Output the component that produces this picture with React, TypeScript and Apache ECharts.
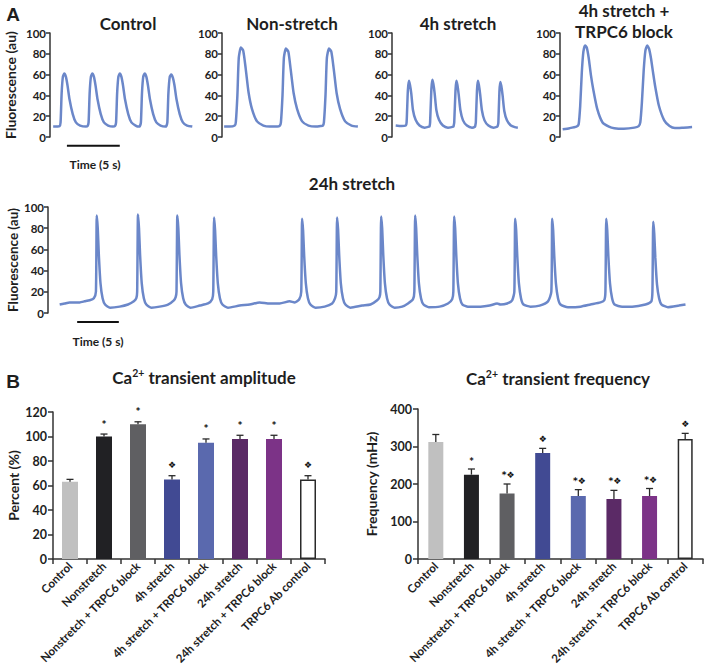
import React, { useEffect, useRef } from 'react';
import * as echarts from 'echarts';

// ---------- Panel A traces: [time (s), fluorescence (au)] ----------
const controlTrace: number[][] = [
  [0.3, 10], [0.9, 10.5], [1.0, 14], [1.1, 42], [1.22, 58], [1.35, 61], [1.5, 58], [1.65, 50], [1.85, 36], [2.15, 22], [2.45, 14], [2.85, 11], [3.4, 10],
  [3.55, 10.5], [3.65, 14], [3.75, 42], [3.87, 58], [4.0, 61], [4.15, 58], [4.3, 50], [4.5, 36], [4.8, 22], [5.1, 14], [5.5, 11], [5.95, 10],
  [6.15, 10.5], [6.25, 14], [6.35, 42], [6.47, 58], [6.6, 61], [6.75, 58], [6.9, 50], [7.1, 36], [7.4, 22], [7.7, 14], [8.1, 11], [8.4, 10],
  [8.5, 10.5], [8.6, 14], [8.7, 42], [8.82, 58], [8.96, 61], [9.11, 58], [9.26, 50], [9.46, 36], [9.76, 22], [10.06, 14], [10.46, 11], [10.9, 10],
  [11.0, 10.5], [11.1, 14], [11.2, 42], [11.33, 58], [11.47, 60], [11.62, 57], [11.77, 50], [11.97, 36], [12.27, 22], [12.57, 14], [12.97, 11], [13.46, 10],
];

const nonStretchTrace: number[][] = [
  [0.2, 10], [0.7, 10], [1.2, 11], [1.3, 14], [1.45, 40], [1.58, 76], [1.78, 86], [2.0, 83], [2.23, 66], [2.5, 43], [2.82, 27], [3.3, 15], [3.9, 11], [4.5, 10], [5.2, 10],
  [5.45, 11], [5.55, 14], [5.7, 40], [5.83, 76], [6.02, 85], [6.25, 82], [6.47, 65], [6.75, 42], [7.07, 27], [7.55, 15], [8.15, 11], [8.8, 10], [9.3, 10.5],
  [9.5, 11], [9.6, 14], [9.75, 40], [9.88, 76], [10.08, 85], [10.3, 82], [10.53, 65], [10.8, 42], [11.12, 27], [11.6, 15], [12.2, 11], [12.8, 10],
];

const stretch4hTrace: number[][] = [
  [0.35, 11], [0.9, 10.5], [1.3, 11], [1.38, 14], [1.5, 45], [1.6, 54], [1.7, 50], [1.82, 42], [1.98, 26], [2.23, 16.5], [2.6, 11], [3.08, 9], [3.5, 10],
  [3.55, 10.5], [3.6, 14], [3.72, 46], [3.81, 55], [3.91, 51], [4.03, 42], [4.19, 26], [4.44, 16.5], [4.81, 11], [5.29, 9], [5.8, 10],
  [5.83, 11], [5.88, 14], [6.0, 45], [6.08, 54], [6.18, 50], [6.3, 41], [6.46, 26], [6.71, 16], [7.08, 11], [7.56, 9], [7.85, 10],
  [7.87, 11], [7.92, 14], [8.03, 45], [8.11, 54], [8.21, 50], [8.33, 41], [8.49, 26], [8.74, 16], [9.11, 11], [9.59, 9], [9.95, 10],
  [10.0, 11], [10.05, 14], [10.15, 44], [10.23, 53], [10.33, 49], [10.45, 40], [10.61, 25], [10.86, 16], [11.23, 11], [11.6, 9.5], [11.89, 9],
];

const stretch4hBlockTrace: number[][] = [
  [0.25, 7.5], [0.9, 8.5], [1.55, 10], [1.75, 12], [1.9, 30], [2.05, 62], [2.2, 82], [2.36, 88], [2.52, 86], [2.7, 76], [2.9, 60], [3.14, 45], [3.5, 27], [4.0, 14], [4.6, 10], [5.1, 8.5], [6.0, 8], [7.0, 9], [7.4, 10.5],
  [7.55, 14], [7.7, 33], [7.87, 64], [8.03, 83], [8.2, 88], [8.37, 85], [8.55, 76], [8.75, 62], [8.96, 48], [9.3, 30], [9.8, 16], [10.3, 10.5], [10.8, 8.6], [11.6, 9], [12.42, 9.5],
];

const stretch24hTrace: number[][] = [
  [1.4, 8], [2.0, 9], [2.6, 10], [3.8, 10], [4.4, 11], [5.0, 12], [5.5, 14], [5.75, 20], [5.85, 92], [5.97, 80], [6.1, 55], [6.3, 28], [6.55, 14], [6.85, 8], [7.45, 5],
  [8.6, 6], [9.6, 8], [10.3, 11], [10.6, 14], [10.7, 20], [10.8, 93], [10.92, 80], [11.05, 55], [11.25, 28], [11.5, 14], [11.8, 8], [12.4, 5],
  [13.4, 6], [14.4, 8], [15.1, 12], [15.32, 15], [15.42, 20], [15.52, 92], [15.64, 80], [15.77, 55], [15.97, 28], [16.22, 14], [16.52, 8], [17.1, 5],
  [18.2, 7], [19.2, 9], [19.7, 13], [19.83, 20], [19.93, 90], [20.05, 78], [20.18, 54], [20.38, 28], [20.63, 14], [20.93, 8], [21.6, 5],
  [23.0, 7], [24.2, 8], [25.4, 10], [26.6, 9], [27.8, 9], [29.0, 11], [29.6, 10], [30.15, 13], [30.39, 20], [30.49, 89], [30.61, 78], [30.74, 54], [30.94, 28], [31.19, 14], [31.49, 8], [32.1, 5],
  [33.2, 6], [34.1, 9], [34.45, 14], [34.59, 20], [34.69, 90], [34.81, 79], [34.94, 55], [35.14, 28], [35.39, 14], [35.69, 8], [36.3, 5],
  [37.7, 7], [38.7, 8], [39.5, 12], [39.78, 15], [39.88, 20], [39.98, 91], [40.1, 80], [40.23, 55], [40.43, 28], [40.68, 14], [40.98, 8], [41.6, 5],
  [42.5, 6], [43.2, 9], [43.8, 13], [43.96, 20], [44.06, 92], [44.18, 80], [44.31, 55], [44.51, 28], [44.76, 14], [45.06, 8], [45.7, 5.5],
  [47.0, 6], [48.0, 9], [48.5, 13], [48.64, 20], [48.74, 91], [48.86, 80], [48.99, 55], [49.19, 28], [49.44, 14], [49.74, 8], [50.4, 6],
  [51.9, 6], [53.0, 7], [53.9, 9], [54.3, 8], [55.1, 9], [55.7, 12], [55.96, 20], [56.06, 89], [56.18, 78], [56.31, 54], [56.51, 28], [56.76, 14], [57.06, 8], [57.9, 6],
  [59.0, 7], [60.0, 11], [60.4, 20], [60.5, 89], [60.62, 78], [60.75, 54], [60.95, 28], [61.2, 14], [61.5, 8], [62.4, 5.5],
  [63.9, 6], [65.1, 8], [66.3, 10], [66.75, 12], [66.89, 20], [66.99, 89], [67.11, 78], [67.24, 54], [67.44, 28], [67.69, 14], [67.99, 8], [68.9, 6],
  [70.1, 6], [71.7, 8], [72.4, 11], [72.53, 20], [72.63, 86], [72.75, 75], [72.88, 52], [73.08, 27], [73.33, 14], [73.63, 8], [74.4, 5.5], [75.7, 7], [76.5, 8],
];

// 5 s scale bars [start, end] in seconds
const scaleBarTop = [1.6, 6.6];
const scaleBar24h = [3.5, 8.5];

// ---------- Panel B ----------
const categories = [
  'Control', 'Nonstretch', 'Nonstretch + TRPC6 block', '4h stretch',
  '4h stretch + TRPC6 block', '24h stretch', '24h stretch + TRPC6 block', 'TRPC6 Ab control',
];
const amplitudeValues = [63, 100, 110, 65, 95, 98, 98, 65];
const amplitudeErrors = [2, 2, 2, 3, 3, 3, 3, 3];
const amplitudeMarks = ['', '*', '*', '❖', '*', '*', '*', '❖'];
const frequencyValues = [312, 225, 175, 283, 168, 160, 168, 320];
const frequencyErrors = [20, 15, 25, 12, 17, 23, 20, 15];
const frequencyMarks = ['', '*', '*❖', '❖', '*❖', '*❖', '*❖', '❖'];

const barColors = ['#c0c0c0', '#212124', '#5f5f62', '#414a93', '#5a69ae', '#5b2a66', '#7c3387', '#ffffff'];

const FONT = 'Lato, "Noto Sans", "DejaVu Sans", sans-serif';
const TRACE = '#6b87c9';
const AXIS = '#333333';
const TXT = '#1e1e1e';

function traceY(gridIndex: number, name: string, nameGap = 33, nameSize = 14, moveOverlap = true) {
  return {
    gridIndex, type: 'value', min: 0, max: 100, interval: 20,
    name, nameLocation: 'middle', nameGap, nameMoveOverlap: moveOverlap,
    nameTextStyle: { fontFamily: FONT, fontWeight: 'bold', fontSize: nameSize, color: TXT },
    axisLine: { show: true, lineStyle: { color: AXIS, width: 1.5 } },
    axisTick: { show: true, length: 4, lineStyle: { color: AXIS, width: 1.5 } },
    axisLabel: { fontFamily: FONT, fontWeight: 'bold', fontSize: 11.5, color: TXT, margin: 4 },
    splitLine: { show: false },
  };
}
function traceX(gridIndex: number, max: number) {
  return { gridIndex, type: 'value', min: 0, max, show: false, splitLine: { show: false } };
}
function traceSeries(idx: number, data: number[][]) {
  return {
    type: 'line', xAxisIndex: idx, yAxisIndex: idx, data, symbol: 'none', showSymbol: false,
    smooth: 0.2, lineStyle: { color: TRACE, width: 2.5 }, silent: true,
  };
}
function barSeries(idx: number, values: number[], width: number) {
  return {
    type: 'bar', xAxisIndex: idx, yAxisIndex: idx, barWidth: width,
    data: values.map((v, i) => ({
      value: v,
      itemStyle: {
        color: barColors[i],
        borderColor: i === 7 ? '#2a2a2a' : barColors[i],
        borderWidth: i === 7 ? 1.5 : 0,
      },
    })),
  };
}
function errSeries(idx: number, values: number[], errs: number[], marks: string[], gap: number) {
  return {
    type: 'custom', xAxisIndex: idx, yAxisIndex: idx,
    itemStyle: { color: '#222222' },
    data: values.map((v, i) => [i, v, errs[i]]),
    renderItem: (params: any, api: any) => {
      const i = api.value(0);
      const v = api.value(1);
      const e = api.value(2);
      const base = api.coord([i, v]);
      const top = api.coord([i, v + e]);
      const mark = marks[params.dataIndex];
      const children: any[] = [
        { type: 'line', shape: { x1: base[0], y1: base[1], x2: top[0], y2: top[1] }, style: { stroke: '#2a2a2a', lineWidth: 1.3 } },
        { type: 'line', shape: { x1: top[0] - 3.5, y1: top[1], x2: top[0] + 3.5, y2: top[1] }, style: { stroke: '#2a2a2a', lineWidth: 1.3 } },
      ];
      if (mark) {
        const onlyStar = mark === '*';
        children.push({
          type: 'text',
          style: {
            text: mark, x: top[0] + (mark.length > 1 ? 1 : 0), y: top[1] - (onlyStar ? gap - 1 : gap),
            align: 'center', verticalAlign: 'middle',
            fontFamily: onlyStar ? FONT : '"DejaVu Sans", sans-serif',
            fontWeight: 'bold',
            fontSize: onlyStar ? 12 : 9, fill: '#111111',
          },
        });
      }
      return { type: 'group', children };
    },
    z: 5,
  };
}
function barX(gridIndex: number) {
  return {
    gridIndex, type: 'category', data: categories,
    axisLine: { show: true, lineStyle: { color: AXIS, width: 1.5 } },
    axisTick: { show: true, length: 5, alignWithLabel: false, lineStyle: { color: AXIS, width: 1.5 } },
    axisLabel: { rotate: 45, interval: 0, margin: 5, fontFamily: FONT, fontWeight: 'bold', fontSize: 11.5, color: TXT },
    splitLine: { show: false },
  };
}
function barY(gridIndex: number, max: number, interval: number, name: string, nameGap: number) {
  return {
    gridIndex, type: 'value', min: 0, max, interval,
    name, nameLocation: 'middle', nameGap,
    nameTextStyle: { fontFamily: FONT, fontWeight: 'bold', fontSize: 14, color: TXT },
    axisLine: { show: true, lineStyle: { color: AXIS, width: 1.5 } },
    axisTick: { show: true, length: 5, lineStyle: { color: AXIS, width: 1.5 } },
    axisLabel: { fontFamily: FONT, fontWeight: 'bold', fontSize: 12.5, color: TXT, margin: 6 },
    splitLine: { show: false },
  };
}
function scaleBar(idx: number, bar: number[]) {
  return {
    type: 'line', xAxisIndex: idx, yAxisIndex: idx, clip: false, symbol: 'none', silent: true,
    data: [[bar[0], -8.5], [bar[1], -8.5]], lineStyle: { color: '#111', width: 2 },
  };
}
function label(text: string, x: number, y: number, size: number, family = FONT) {
  return {
    type: 'text', x, y,
    style: { text, align: 'center', verticalAlign: 'middle', fontFamily: family, fontWeight: 'bold', fontSize: size, fill: TXT },
  };
}
function caTitle(rest: string, x: number, y: number) {
  return {
    type: 'text', x, y,
    style: {
      text: `{a|Ca}{s|2+}{a| ${rest}}`, align: 'center', verticalAlign: 'middle',
      rich: {
        a: { fontFamily: FONT, fontWeight: 'bold', fontSize: 17, lineHeight: 20, fill: TXT },
        s: { fontFamily: FONT, fontWeight: 'bold', fontSize: 10.5, lineHeight: 9, verticalAlign: 'top', fill: TXT },
      },
    },
  };
}
function grid(left: number, top: number, width: number, height: number) {
  return { left, top, width, height, outerBoundsMode: 'none', containLabel: false };
}

export default function App() {
  const ref = useRef<HTMLDivElement>(null);
  useEffect(() => {
    if (!ref.current) return;
    const chart = echarts.init(ref.current, null, { renderer: 'svg' });
    chart.setOption({
      animation: false,
      backgroundColor: '#ffffff',
      grid: [
        grid(50, 33, 148, 104),
        grid(222, 33, 138, 104),
        grid(392, 33, 127, 104),
        grid(560, 33, 134, 104),
        grid(48, 207, 650, 106),
        grid(53, 412, 272, 147),
        grid(418, 409, 285, 150),
      ],
      xAxis: [
        traceX(0, 14), traceX(1, 13), traceX(2, 12), traceX(3, 12.6), traceX(4, 78),
        barX(5), barX(6),
      ],
      yAxis: [
        traceY(0, 'Fluorescence (au)'), traceY(1, ''), traceY(2, ''), traceY(3, ''),
        traceY(4, 'Fluorescence (au)', 28, 13.5, false),
        barY(5, 120, 20, 'Percent (%)', 33), barY(6, 400, 100, 'Frequency (mHz)', 40),
      ],
      series: [
        traceSeries(0, controlTrace),
        traceSeries(1, nonStretchTrace),
        traceSeries(2, stretch4hTrace),
        traceSeries(3, stretch4hBlockTrace),
        traceSeries(4, stretch24hTrace),
        scaleBar(0, scaleBarTop),
        scaleBar(4, scaleBar24h),
        barSeries(5, amplitudeValues, 16),
        errSeries(5, amplitudeValues, amplitudeErrors, amplitudeMarks, 11),
        barSeries(6, frequencyValues, 15),
        errSeries(6, frequencyValues, frequencyErrors, frequencyMarks, 9),
      ],
      graphic: [
        label('A', 13, 14, 19, '"Liberation Sans", Arial, sans-serif'),
        label('B', 13, 381, 19, '"Liberation Sans", Arial, sans-serif'),
        label('Control', 128, 23, 17),
        label('Non-stretch', 292, 23, 17),
        label('4h stretch', 458, 23, 17),
        label('4h stretch +', 624, 10, 17),
        label('TRPC6 block', 624, 31, 17),
        label('24h stretch', 352, 183, 17),
        label('Time (5 s)', 95, 164, 12),
        label('Time (5 s)', 98, 341, 12),
        caTitle('transient amplitude', 204, 377),
        caTitle('transient frequency', 558, 378),
      ],
    });
    return () => chart.dispose();
  }, []);
  return (
    <div
      ref={ref}
      style={{ position: 'absolute', left: 0, top: 0, width: 705, height: 672, background: '#fff' }}
    />
  );
}
